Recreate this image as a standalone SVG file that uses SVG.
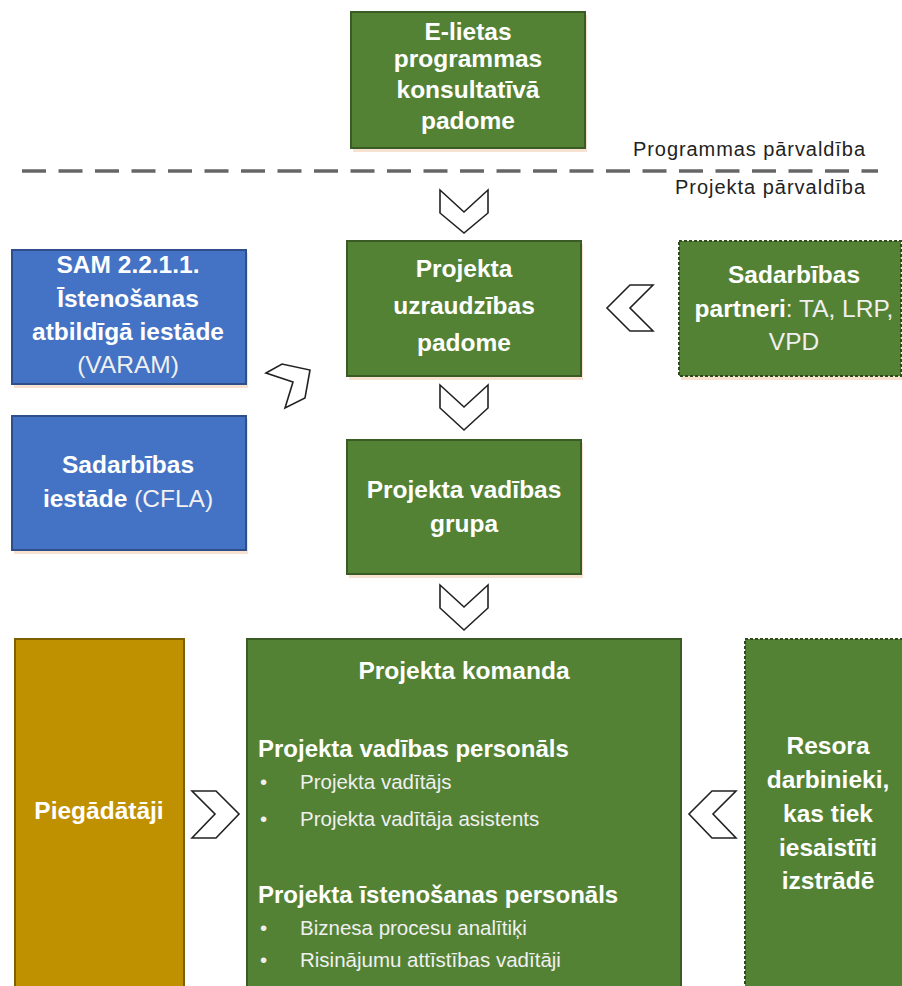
<svg xmlns="http://www.w3.org/2000/svg" width="902" height="986" viewBox="0 0 902 986">
<defs>
<style>
.g{fill:#548235;stroke:#3a5c24;stroke-width:2}
.gd{fill:#548235;stroke:#2f4a1c;stroke-width:2;stroke-dasharray:3 2}
.b{fill:#4472c4;stroke:#2f4f8a;stroke-width:2}
.y{fill:#bf9000;stroke:#7f6000;stroke-width:2}
.sh{fill:#f5d9c6;opacity:0.8}
.t{font-family:"Liberation Sans",Arial,sans-serif;fill:#ffffff;text-anchor:middle;font-weight:bold;font-size:24.5px}
.r{font-weight:normal;fill:#f0f0f0}
.l{font-family:"Liberation Sans",Arial,sans-serif;fill:#222;font-size:20px;text-anchor:end}
.li{font-family:"Liberation Sans",Arial,sans-serif;fill:#f0f0f0;font-size:20.5px}
.h{font-family:"Liberation Sans",Arial,sans-serif;fill:#fff;font-size:24px;font-weight:bold}
.c{fill:#ffffff;stroke:#222;stroke-width:1.6;stroke-linejoin:miter}
</style>
</defs>

<g id="divider">
<line x1="22" y1="171" x2="878" y2="171" stroke="#666" stroke-width="3.5" stroke-dasharray="24 12.5"/>
<text class="l" x="865" y="156" textLength="232" lengthAdjust="spacing">Programmas pārvaldība</text>
<text class="l" x="865" y="194" textLength="190" lengthAdjust="spacing">Projekta pārvaldība</text>
</g>

<g id="konsultativa-padome">
<rect class="sh" x="353" y="15" width="234" height="137"/>
<rect class="g" x="351" y="12" width="234" height="136"/>
<text class="t" x="468" y="40">E-lietas</text>
<text class="t" x="468" y="67">programmas</text>
<text class="t" x="468" y="98">konsultatīvā</text>
<text class="t" x="468" y="129">padome</text>
</g>

<g id="uzraudzibas-padome">
<rect class="sh" x="349" y="244" width="234" height="136"/>
<rect class="g" x="347" y="241" width="234" height="135"/>
<text class="t" x="464" y="277">Projekta</text>
<text class="t" x="464" y="314">uzraudzības</text>
<text class="t" x="464" y="351">padome</text>
</g>

<g id="sadarbibas-partneri">
<rect class="sh" x="681" y="244" width="222" height="136"/>
<rect class="gd" x="679" y="241" width="222" height="135"/>
<text class="t" x="794" y="283">Sadarbības</text>
<text class="t" x="794" y="317">partneri<tspan class="r">: TA, LRP,</tspan></text>
<text class="t r" x="794" y="350">VPD</text>
</g>

<g id="sam-varam">
<rect class="sh" x="14" y="253" width="234" height="135"/>
<rect class="b" x="12" y="250" width="234" height="134"/>
<text class="t" x="128" y="273">SAM 2.2.1.1.</text>
<text class="t" x="128" y="307">Īstenošanas</text>
<text class="t" x="128" y="340">atbildīgā iestāde</text>
<text class="t r" x="128" y="373">(VARAM)</text>
</g>

<g id="sadarbibas-iestade">
<rect class="sh" x="14" y="419" width="234" height="135"/>
<rect class="b" x="12" y="416" width="234" height="134"/>
<text class="t" x="128" y="473">Sadarbības</text>
<text class="t" x="128" y="507">iestāde <tspan class="r">(CFLA)</tspan></text>
</g>

<g id="vadibas-grupa">
<rect class="sh" x="349" y="443" width="234" height="135"/>
<rect class="g" x="347" y="440" width="234" height="134"/>
<text class="t" x="464" y="498">Projekta vadības</text>
<text class="t" x="464" y="532">grupa</text>
</g>

<g id="piegadataji">
<rect class="y" x="15" y="639" width="169" height="370"/>
<text class="t" x="99" y="819">Piegādātāji</text>
</g>

<g id="projekta-komanda">
<rect class="g" x="247" y="639" width="434" height="370"/>
<text class="t" x="464" y="679">Projekta komanda</text>
<text class="h" x="258" y="757">Projekta vadības personāls</text>
<text class="li" x="260" y="789">•</text>
<text class="li" x="300" y="789">Projekta vadītājs</text>
<text class="li" x="260" y="826">•</text>
<text class="li" x="300" y="826">Projekta vadītāja asistents</text>
<text class="h" x="258" y="903">Projekta īstenošanas personāls</text>
<text class="li" x="260" y="935">•</text>
<text class="li" x="300" y="935">Biznesa procesu analītiķi</text>
<text class="li" x="260" y="967">•</text>
<text class="li" x="300" y="967">Risinājumu attīstības vadītāji</text>
</g>

<g id="resora-darbinieki">
<rect class="gd" x="745" y="639" width="160" height="370"/>
<text class="t" x="828" y="754">Resora</text>
<text class="t" x="828" y="788">darbinieki,</text>
<text class="t" x="828" y="822">kas tiek</text>
<text class="t" x="828" y="856">iesaistīti</text>
<text class="t" x="828" y="889">izstrādē</text>
</g>

<g id="connectors">
<polygon class="c" points="440,190 464,212 488,190 488,213 464,233 440,213"/>
<polygon class="c" points="440,385 464,407 488,385 488,408 464,430 440,408"/>
<polygon class="c" points="440,585 464,607 488,585 488,608 464,630 440,608"/>
<polygon class="c" points="630,285 653,285 630,308 653,331 630,331 607,308"/>
<polygon class="c" points="266,373 282,364 310,370 305,398 285,408 293,382"/>
<polygon class="c" points="192,791 216,791 239,814 216,838 192,838 215,814"/>
<polygon class="c" points="712,791 736,791 713,814 736,838 712,838 689,814"/>
</g>
</svg>
